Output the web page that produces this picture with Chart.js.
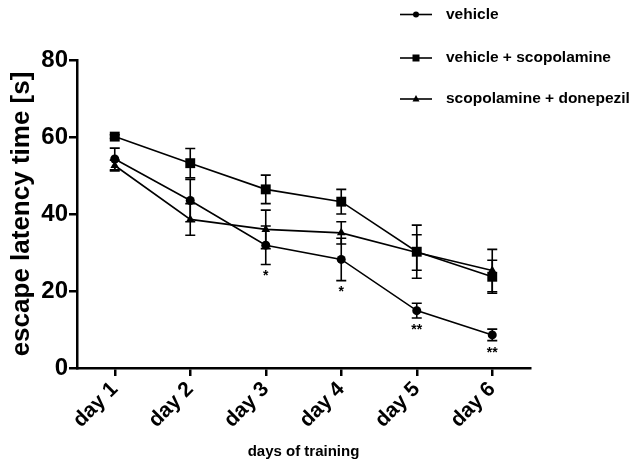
<!DOCTYPE html>
<html>
<head>
<meta charset="utf-8">
<script src="https://cdn.jsdelivr.net/npm/chart.js@4/dist/chart.umd.min.js"></script>
<style>
  body { margin: 0; background: #fff; }
  #wrap { width: 638px; height: 463px; }
</style>
</head>
<body>
<div id="wrap"><canvas id="chartLatencia" width="638" height="463"></canvas></div>
<script>
const dias = ['day 1', 'day 2', 'day 3', 'day 4', 'day 5', 'day 6']

const vehicle = [54.3, 43.5, 31.9, 28.2, 14.9, 8.6]
const vehicleErr = [2.8, 5.5, 5.0, 5.5, 1.9, 1.5]

const vehicleScop = [60.1, 53.2, 46.4, 43.2, 30.2, 23.7]
const vehicleScopErr = [0.5, 3.8, 3.7, 3.2, 6.9, 4.3]

const scopDonep = [52.6, 38.6, 36.0, 35.1, 30.0, 25.3]
const scopDonepErr = [1.4, 4.1, 5.0, 2.9, 4.6, 5.5]

// significance marks under the vehicle series
const marcas = ['', '', '*', '*', '**', '**']

const yTicks = [0, 20, 40, 60, 80]

const FONT = "'Liberation Sans', Arial, sans-serif"

const errores = [vehicleErr, vehicleScopErr, scopDonepErr]

// error bars drawn under the markers
const errorBars = {
    id: 'errorBars',
    beforeDatasetsDraw(chart) {
        const ctx = chart.ctx
        const y = chart.scales.y
        ctx.save()
        ctx.strokeStyle = '#000'
        ctx.lineWidth = 1.6
        chart.data.datasets.forEach((ds, i) => {
            const meta = chart.getDatasetMeta(i)
            meta.data.forEach((pt, j) => {
                const v = ds.data[j]
                const e = errores[i][j]
                const top = y.getPixelForValue(v + e)
                const bot = y.getPixelForValue(v - e)
                ctx.beginPath()
                ctx.moveTo(pt.x, top); ctx.lineTo(pt.x, bot)
                ctx.moveTo(pt.x - 5, top); ctx.lineTo(pt.x + 5, top)
                ctx.moveTo(pt.x - 5, bot); ctx.lineTo(pt.x + 5, bot)
                ctx.stroke()
            })
        })
        ctx.restore()
    }
}

// asterisks + legend
const extras = {
    id: 'extras',
    afterDraw(chart) {
        const ctx = chart.ctx
        const y = chart.scales.y
        const meta = chart.getDatasetMeta(0)
        ctx.save()
        ctx.fillStyle = '#000'
        ctx.font = `bold 14px ${FONT}`
        ctx.textAlign = 'center'
        ctx.textBaseline = 'top'
        meta.data.forEach((pt, j) => {
            if (!marcas[j]) return
            const bot = y.getPixelForValue(vehicle[j] - vehicleErr[j])
            ctx.fillText(marcas[j], pt.x, bot + 5)
        })

        // legend
        const x0 = 400, x1 = 432, tx = 446
        const filas = [14.5, 58, 99]
        ctx.font = `bold 15.5px ${FONT}`
        ctx.textAlign = 'left'
        ctx.textBaseline = 'middle'
        ctx.lineWidth = 1.6
        chart.data.datasets.forEach((ds, i) => {
            const ly = filas[i]
            const cx = (x0 + x1) / 2
            ctx.beginPath()
            ctx.moveTo(x0, ly); ctx.lineTo(x1, ly)
            ctx.stroke()
            ctx.beginPath()
            if (ds.pointStyle === 'circle') {
                ctx.arc(cx, ly, 3, 0, Math.PI * 2)
            } else if (ds.pointStyle === 'rect') {
                ctx.rect(cx - 3.5, ly - 3.5, 7, 7)
            } else {
                ctx.moveTo(cx, ly - 4); ctx.lineTo(cx + 3.5, ly + 2.5); ctx.lineTo(cx - 3.5, ly + 2.5); ctx.closePath()
            }
            ctx.fill()
            ctx.fillText(ds.label, tx, ly)
        })
        ctx.restore()
    }
}

const serie = (label, data, style, radius) => ({
    label,
    data,
    borderColor: '#000',
    backgroundColor: '#000',
    borderWidth: 1.6,
    pointStyle: style,
    pointRadius: radius,
    pointBorderWidth: 0,
    tension: 0
})

const chartLatencia = new Chart(document.getElementById('chartLatencia').getContext('2d'), {
    type: 'line',
    data: {
        labels: dias,
        datasets: [
            serie('vehicle', vehicle, 'circle', 4.5),
            serie('vehicle + scopolamine', vehicleScop, 'rect', 7),
            serie('scopolamine + donepezil', scopDonep, 'triangle', 5)
        ]
    },
    options: {
        responsive: false,
        animation: false,
        layout: { padding: { top: 60, right: 108, bottom: 0, left: 0 } },
        plugins: {
            legend: { display: false },
            tooltip: { enabled: false }
        },
        scales: {
            x: {
                offset: true,
                afterFit: s => { s.height = 95 },
                border: { display: true, color: '#000', width: 2.5 },
                grid: { display: true, drawOnChartArea: false, drawTicks: true, tickLength: 8, color: '#000', lineWidth: 2.5 },
                ticks: {
                    color: '#000', maxRotation: 45, minRotation: 45, padding: 1,
                    font: { family: FONT, size: 21, weight: 'bold' }
                },
                title: {
                    display: true, text: 'days of training', color: '#000',
                    padding: { top: 0, bottom: 2 },
                    font: { family: FONT, size: 15, weight: 'bold' }
                }
            },
            y: {
                min: 0,
                max: 80,
                afterFit: s => { s.width = 77 },
                afterBuildTicks: s => { s.ticks = yTicks.map(v => ({ value: v })) },
                border: { display: true, color: '#000', width: 2.5 },
                grid: { display: true, drawOnChartArea: false, drawTicks: true, tickLength: 8, color: '#000', lineWidth: 2.5 },
                ticks: {
                    color: '#000', padding: 1,
                    font: { family: FONT, size: 24, weight: 'bold' }
                },
                title: {
                    display: true, text: 'escape latency time [s]', color: '#000',
                    padding: { top: 6, bottom: 0 },
                    font: { family: FONT, size: 26, weight: 'bold' }
                }
            }
        }
    },
    plugins: [errorBars, extras]
})
</script>
</body>
</html>
